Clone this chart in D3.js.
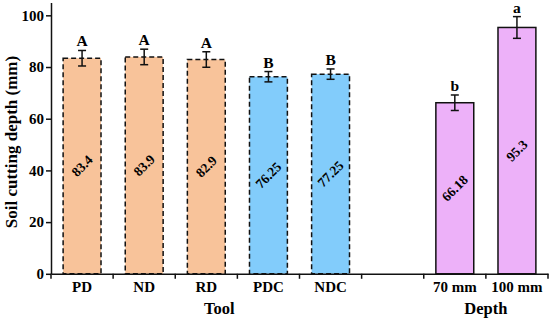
<!DOCTYPE html>
<html>
<head>
<meta charset="utf-8">
<script src="https://cdn.jsdelivr.net/npm/d3@7"></script>
<style>
  html, body { margin: 0; padding: 0; background: #fff; }
  svg { display: block; }
  text { font-family: "Liberation Serif", "Times New Roman", serif; font-weight: bold; fill: #000; }
</style>
</head>
<body>
<svg id="chart" width="550" height="322"></svg>
<script>
// ---- data ----
const categories = ["PD", "ND", "RD", "PDC", "NDC", "gap", "70 mm", "100 mm"];
const tickLabels = ["PD", "ND", "RD", "PDC", "NDC", "", "70 mm", "100 mm"];
const values = [83.4, 83.9, 82.9, 76.25, 77.25, null, 66.18, 95.3];
const valueLabels = ["83.4", "83.9", "82.9", "76.25", "77.25", "", "66.18", "95.3"];
const errors = [3, 3, 3, 2, 2, null, 3, 4.2];
const letters = ["A", "A", "A", "B", "B", "", "b", "a"];
const groups = ["tool", "tool", "tool", "toolC", "toolC", "none", "depth", "depth"];
const yTicks = [0, 20, 40, 60, 80, 100];
const groupTitles = [
  { text: "Tool", cats: ["RD", "PDC"] },
  { text: "Depth", cats: ["70 mm", "100 mm"] }
];

const colors = { tool: "#F8C39A", toolC: "#82CCFB", depth: "#EDB1F9" };

// ---- layout ----
const svg = d3.select("#chart");
const margin = { left: 51, right: 2, top: 2, bottom: 48 };
const W = 550, H = 322;
const x = d3.scaleBand().domain(categories).range([margin.left, W - margin.right]).paddingInner(0).paddingOuter(0);
const y = d3.scaleLinear().domain([0, 105]).range([273.8, 2.4]);

const barW = x.bandwidth() * 0.61;
const data = categories.map((c, i) => ({
  c, v: values[i], e: errors[i], l: letters[i], g: groups[i], lab: valueLabels[i]
})).filter(d => d.v != null);

// bars
svg.append("g").selectAll("rect").data(data).join("rect")
  .attr("x", d => x(d.c) + (x.bandwidth() - barW) / 2)
  .attr("y", d => y(d.v))
  .attr("width", barW)
  .attr("height", d => y(0) - y(d.v))
  .attr("fill", d => colors[d.g])
  .attr("stroke", "#111")
  .attr("stroke-width", 1.5)
  .attr("stroke-dasharray", d => d.g === "depth" ? null : "5,3");

// value labels rotated
svg.append("g").selectAll("text").data(data).join("text")
  .attr("transform", d => {
    const cx = x(d.c) + x.bandwidth() / 2;
    const cy = (y(d.v) + y(0)) / 2;
    return `translate(${cx},${cy}) rotate(-45)`;
  })
  .attr("text-anchor", "middle")
  .attr("dominant-baseline", "central")
  .style("font-size", "13.5px")
  .text(d => d.lab);

// error bars
const eg = svg.append("g").attr("stroke", "#111").attr("stroke-width", 1.5);
data.forEach(d => {
  const cx = x(d.c) + x.bandwidth() / 2;
  eg.append("line").attr("x1", cx).attr("x2", cx).attr("y1", y(d.v + d.e)).attr("y2", y(d.v - d.e));
  eg.append("line").attr("x1", cx - 4).attr("x2", cx + 4).attr("y1", y(d.v + d.e)).attr("y2", y(d.v + d.e));
  eg.append("line").attr("x1", cx - 4).attr("x2", cx + 4).attr("y1", y(d.v - d.e)).attr("y2", y(d.v - d.e));
});

// significance letters
svg.append("g").selectAll("text").data(data).join("text")
  .attr("x", d => x(d.c) + x.bandwidth() / 2)
  .attr("y", d => y(d.v + d.e) - 4)
  .attr("text-anchor", "middle")
  .style("font-size", "15.5px")
  .text(d => d.l);

// y axis
const yAxis = svg.append("g").attr("transform", `translate(${margin.left},0)`)
  .call(d3.axisLeft(y).tickValues(yTicks).tickSize(5).tickSizeOuter(0));
yAxis.select(".domain").attr("stroke", "#111").attr("stroke-width", 1.5);
yAxis.selectAll(".tick line").attr("stroke", "#111").attr("stroke-width", 1.5);
yAxis.selectAll(".tick text").attr("x", -7).style("font-size", "15px")
  .style("font-family", '"Liberation Serif", serif').style("font-weight", "bold");

// x axis (labels)
const xAxis = svg.append("g").attr("transform", `translate(0,${y(0)})`)
  .call(d3.axisBottom(x).tickSize(0).tickSizeOuter(0).tickFormat((d, i) => tickLabels[i]));
xAxis.select(".domain").attr("stroke", "#111").attr("stroke-width", 1.5);
xAxis.selectAll(".tick text").attr("y", 7.5).style("font-size", "15px")
  .style("font-family", '"Liberation Serif", serif').style("font-weight", "bold");

// x boundary ticks
const bounds = categories.map(c => x(c)).concat([x(categories[categories.length - 1]) + x.bandwidth()]);
svg.append("g").selectAll("line").data(bounds).join("line")
  .attr("x1", d => d).attr("x2", d => d)
  .attr("y1", y(0)).attr("y2", y(0) + 5)
  .attr("stroke", "#111").attr("stroke-width", 1.5);

// group titles
groupTitles.forEach(gt => {
  const xs = gt.cats.map(c => x(c) + x.bandwidth() / 2);
  svg.append("text")
    .attr("x", d3.mean(xs) - (gt.text === "Tool" ? 18 : 0))
    .attr("y", 314)
    .attr("text-anchor", "middle")
    .style("font-size", "16.5px")
    .text(gt.text);
});

// y title
svg.append("text")
  .attr("transform", `translate(17,142) rotate(-90)`)
  .attr("text-anchor", "middle")
  .style("font-size", "17px")
  .text("Soil cutting depth (mm)");
</script>
</body>
</html>
